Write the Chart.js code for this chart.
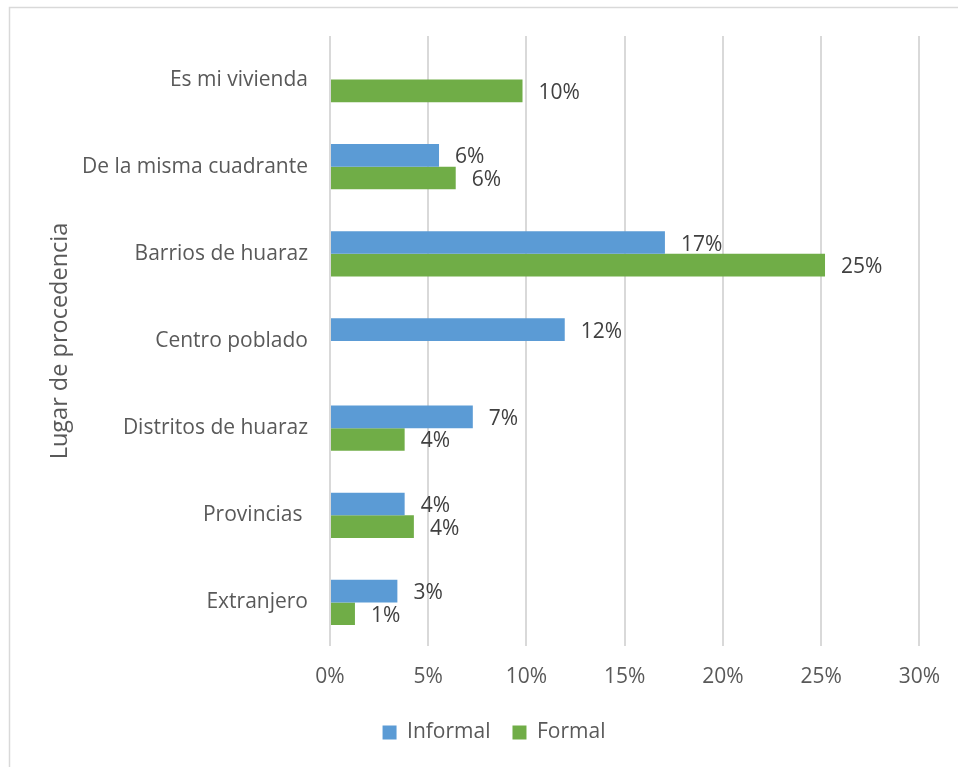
<!DOCTYPE html>
<html>
<head>
<meta charset="utf-8">
<script src="https://cdn.jsdelivr.net/npm/chart.js@4"></script>
<style>
  html, body { margin: 0; padding: 0; background: #fff; }
  #wrap { width: 958px; height: 767px; position: relative; }
</style>
</head>
<body>
<div id="wrap"><canvas id="chart" width="958" height="767"></canvas></div>
<script>
// Datos (porcentajes)
const categories = ['Es mi vivienda', 'De la misma cuadrante', 'Barrios de huaraz', 'Centro poblado', 'Distritos de huaraz', 'Provincias ', 'Extranjero'];
const informal = [null, 5.55, 17.05, 11.95, 7.27, 3.8, 3.43];
const formal = [9.8, 6.4, 25.2, null, 3.8, 4.27, 1.27];
const xTicks = [0, 5, 10, 15, 20, 25, 30];

const FONT = '"Open Sans", "Noto Sans", sans-serif';

// Borde exterior del area del grafico
const frame = {
    id: 'frame',
    beforeDraw(chart) {
        const c = chart.ctx;
        c.save();
        c.strokeStyle = '#d9d9d9';
        c.lineWidth = 1.5;
        c.strokeRect(9.5, 7.5, 980, 800);
        c.restore();
    }
};

// Etiquetas de valor al final de cada barra
const valueLabels = {
    id: 'valueLabels',
    afterDatasetsDraw(chart) {
        const c = chart.ctx;
        c.save();
        c.font = '21px ' + FONT;
        c.fillStyle = '#404040';
        c.textAlign = 'left';
        c.textBaseline = 'middle';
        chart.data.datasets.forEach((ds, i) => {
            const meta = chart.getDatasetMeta(i);
            meta.data.forEach((bar, j) => {
                const v = ds.data[j];
                if (v === null || v === undefined) return;
                c.fillText(Math.round(v) + '%', bar.x + 16, bar.y + 2);
            });
        });
        c.restore();
    }
};

new Chart(document.getElementById('chart'), {
    type: 'bar',
    data: {
        labels: categories,
        datasets: [
            { label: 'Informal', data: informal, backgroundColor: '#5b9bd5', borderWidth: 0 },
            { label: 'Formal', data: formal, backgroundColor: '#70ad47', borderWidth: 0 }
        ]
    },
    options: {
        indexAxis: 'y',
        responsive: false,
        animation: false,
        categoryPercentage: 0.52,
        barPercentage: 1,
        layout: { padding: { top: 36, right: 38, left: 68, bottom: 14 } },
        plugins: {
            legend: {
                position: 'bottom',
                labels: {
                    font: { family: FONT, size: 21 },
                    color: '#595959',
                    boxWidth: 14,
                    boxHeight: 14,
                    padding: 22
                }
            },
            tooltip: { enabled: false }
        },
        scales: {
            x: {
                min: 0,
                max: 30,
                afterBuildTicks(scale) {
                    scale.ticks = xTicks.map(v => ({ value: v }));
                },
                afterFit(scale) { scale.height = 54; },
                grid: { color: '#d9d9d9', lineWidth: 2, drawTicks: false },
                border: { display: false },
                ticks: {
                    padding: 18,
                    color: '#595959',
                    font: { family: FONT, size: 21 },
                    callback: v => v + '%'
                }
            },
            y: {
                afterFit(scale) { scale.width = 262; },
                grid: { display: false },
                border: { display: false },
                ticks: {
                    padding: 14,
                    color: '#595959',
                    font: { family: FONT, size: 21 }
                },
                title: {
                    display: true,
                    text: 'Lugar de procedencia',
                    color: '#595959',
                    font: { family: FONT, size: 23.5 },
                    padding: { top: -22, bottom: 0 }
                }
            }
        }
    },
    plugins: [frame, valueLabels]
});
</script>
</body>
</html>
